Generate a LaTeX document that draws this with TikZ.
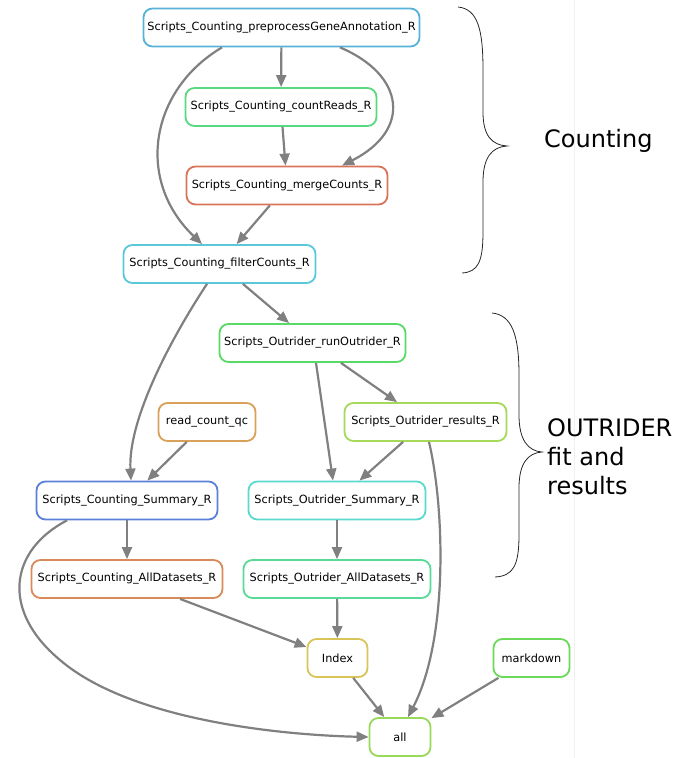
\documentclass[tikz,border=0pt]{standalone}
\usepackage{fontspec}
\setmainfont{DejaVu Sans}
\usepackage{xcolor}
\usepackage{tikz}
\usetikzlibrary{arrows.meta}

\definecolor{cPre}{HTML}{57B2D9}
\definecolor{cCount}{HTML}{59D97F}
\definecolor{cMerge}{HTML}{D9735A}
\definecolor{cFilter}{HTML}{5AC8D9}
\definecolor{cRun}{HTML}{59D966}
\definecolor{cQc}{HTML}{D9A05A}
\definecolor{cRes}{HTML}{A6D95A}
\definecolor{cCSum}{HTML}{5A80D9}
\definecolor{cOSum}{HTML}{5AD9CF}
\definecolor{cCAll}{HTML}{D98A5A}
\definecolor{cOAll}{HTML}{5AD997}
\definecolor{cIndex}{HTML}{D9C45A}
\definecolor{cMd}{HTML}{6DD95A}
\definecolor{cAll}{HTML}{98D95A}
\definecolor{edgegray}{HTML}{808080}

\begin{document}
\begin{tikzpicture}[
    x=1pt, y=-1pt,
    rule/.style={rectangle, rounded corners=9pt, draw, line width=1.8pt, fill=white, minimum height=38pt, inner xsep=2pt, align=center, font=\fontsize{11.3}{13}\selectfont},
    arrow/.style={-{Triangle[length=12pt, width=10pt]}, line width=2.2pt, draw=edgegray},
    brace/.style={line width=0.8pt, draw=black!85},
    label/.style={inner sep=0pt, align=left, font=\fontsize{24}{29}\selectfont}
]
\useasboundingbox (0,0) rectangle (677,758);
\draw[black!6, line width=0.6pt] (574,0) -- (574,758);

\node[rule, draw=cPre, minimum width=276pt] (pre) at (281.5,27.5) {Scripts\_Counting\_preprocessGeneAnnotation\_R};
\node[rule, draw=cCount, minimum width=191pt] (count) at (281,107) {Scripts\_Counting\_countReads\_R};
\node[rule, draw=cMerge, minimum width=201pt] (merge) at (287,185.5) {Scripts\_Counting\_mergeCounts\_R};
\node[rule, draw=cFilter, minimum width=192pt] (filter) at (219.5,264) {Scripts\_Counting\_filterCounts\_R};
\node[rule, draw=cRun, minimum width=186pt] (runO) at (312.5,343) {Scripts\_Outrider\_runOutrider\_R};
\node[rule, draw=cQc, minimum width=97pt] (qc) at (207,422) {read\_count\_qc};
\node[rule, draw=cRes, minimum width=162pt] (res) at (425.5,422) {Scripts\_Outrider\_results\_R};
\node[rule, draw=cCSum, minimum width=181pt] (csum) at (127,500.5) {Scripts\_Counting\_Summary\_R};
\node[rule, draw=cOSum, minimum width=177pt] (osum) at (337,500.5) {Scripts\_Outrider\_Summary\_R};
\node[rule, draw=cCAll, minimum width=191pt] (call) at (127,579) {Scripts\_Counting\_AllDatasets\_R};
\node[rule, draw=cOAll, minimum width=187pt] (oall) at (337,579) {Scripts\_Outrider\_AllDatasets\_R};
\node[rule, draw=cIndex, minimum width=60pt] (index) at (337.5,658) {Index};
\node[rule, draw=cMd, minimum width=76pt] (markdown) at (531.5,658) {markdown};
\node[rule, draw=cAll, minimum width=61pt] (all) at (400,737) {all};

\draw[arrow] (pre) -- (count);
\draw[arrow] ([xshift=58.5pt]pre.south) .. controls (405,75) and (412,130) .. ([xshift=55pt]merge.north);
\draw[arrow] ([xshift=-59.5pt]pre.south) .. controls (150,90) and (135,180) .. ([xshift=-17.5pt]filter.north);
\draw[arrow] (count) -- (merge);
\draw[arrow] (merge) -- (filter);
\draw[arrow] (filter) -- (runO);
\draw[arrow] ([xshift=-12.5pt]filter.south) .. controls (170,340) and (128,420) .. ([xshift=4pt]csum.north);
\draw[arrow] (qc) -- (csum);
\draw[arrow] (runO) -- (res);
\draw[arrow] ([xshift=3.5pt]runO.south) -- ([xshift=-4pt]osum.north);
\draw[arrow] (res) -- (osum);
\draw[arrow] ([xshift=3.5pt]res.south) .. controls (445,510) and (448,640) .. ([xshift=8pt]all.north);
\draw[arrow] (csum) -- (call);
\draw[arrow] ([xshift=-60pt]csum.south) .. controls (10,550) and (0,610) .. (60,660) .. controls (130,720) and (280,735) .. (all.west);
\draw[arrow] (osum) -- (oall);
\draw[arrow] ([xshift=53pt]call.south) -- ([yshift=11pt]index.west);
\draw[arrow] (oall) -- (index);
\draw[arrow] (index) -- (all);
\draw[arrow] (markdown) -- (all);

\draw[brace] (458,7) .. controls (478,9) and (483,30) .. (483,70) -- (483,112)
  .. controls (483,136) and (492,145) .. (507,146)
  .. controls (492,147) and (483,157) .. (483,182) -- (483,232)
  .. controls (483,262) and (478,272) .. (462,273);
\draw[brace] (492,313) .. controls (512,315) and (519,335) .. (519,375) -- (519,415)
  .. controls (519,440) and (528,451) .. (542,452)
  .. controls (528,453) and (519,463) .. (519,488) -- (519,535)
  .. controls (519,566) and (513,576) .. (495,577);

\node[label, anchor=base west] (counting) at (544,147) {Counting};
\node[label, anchor=west] (outrider) at (547,457) {OUTRIDER\\fit and\\results};
\end{tikzpicture}
\end{document}
